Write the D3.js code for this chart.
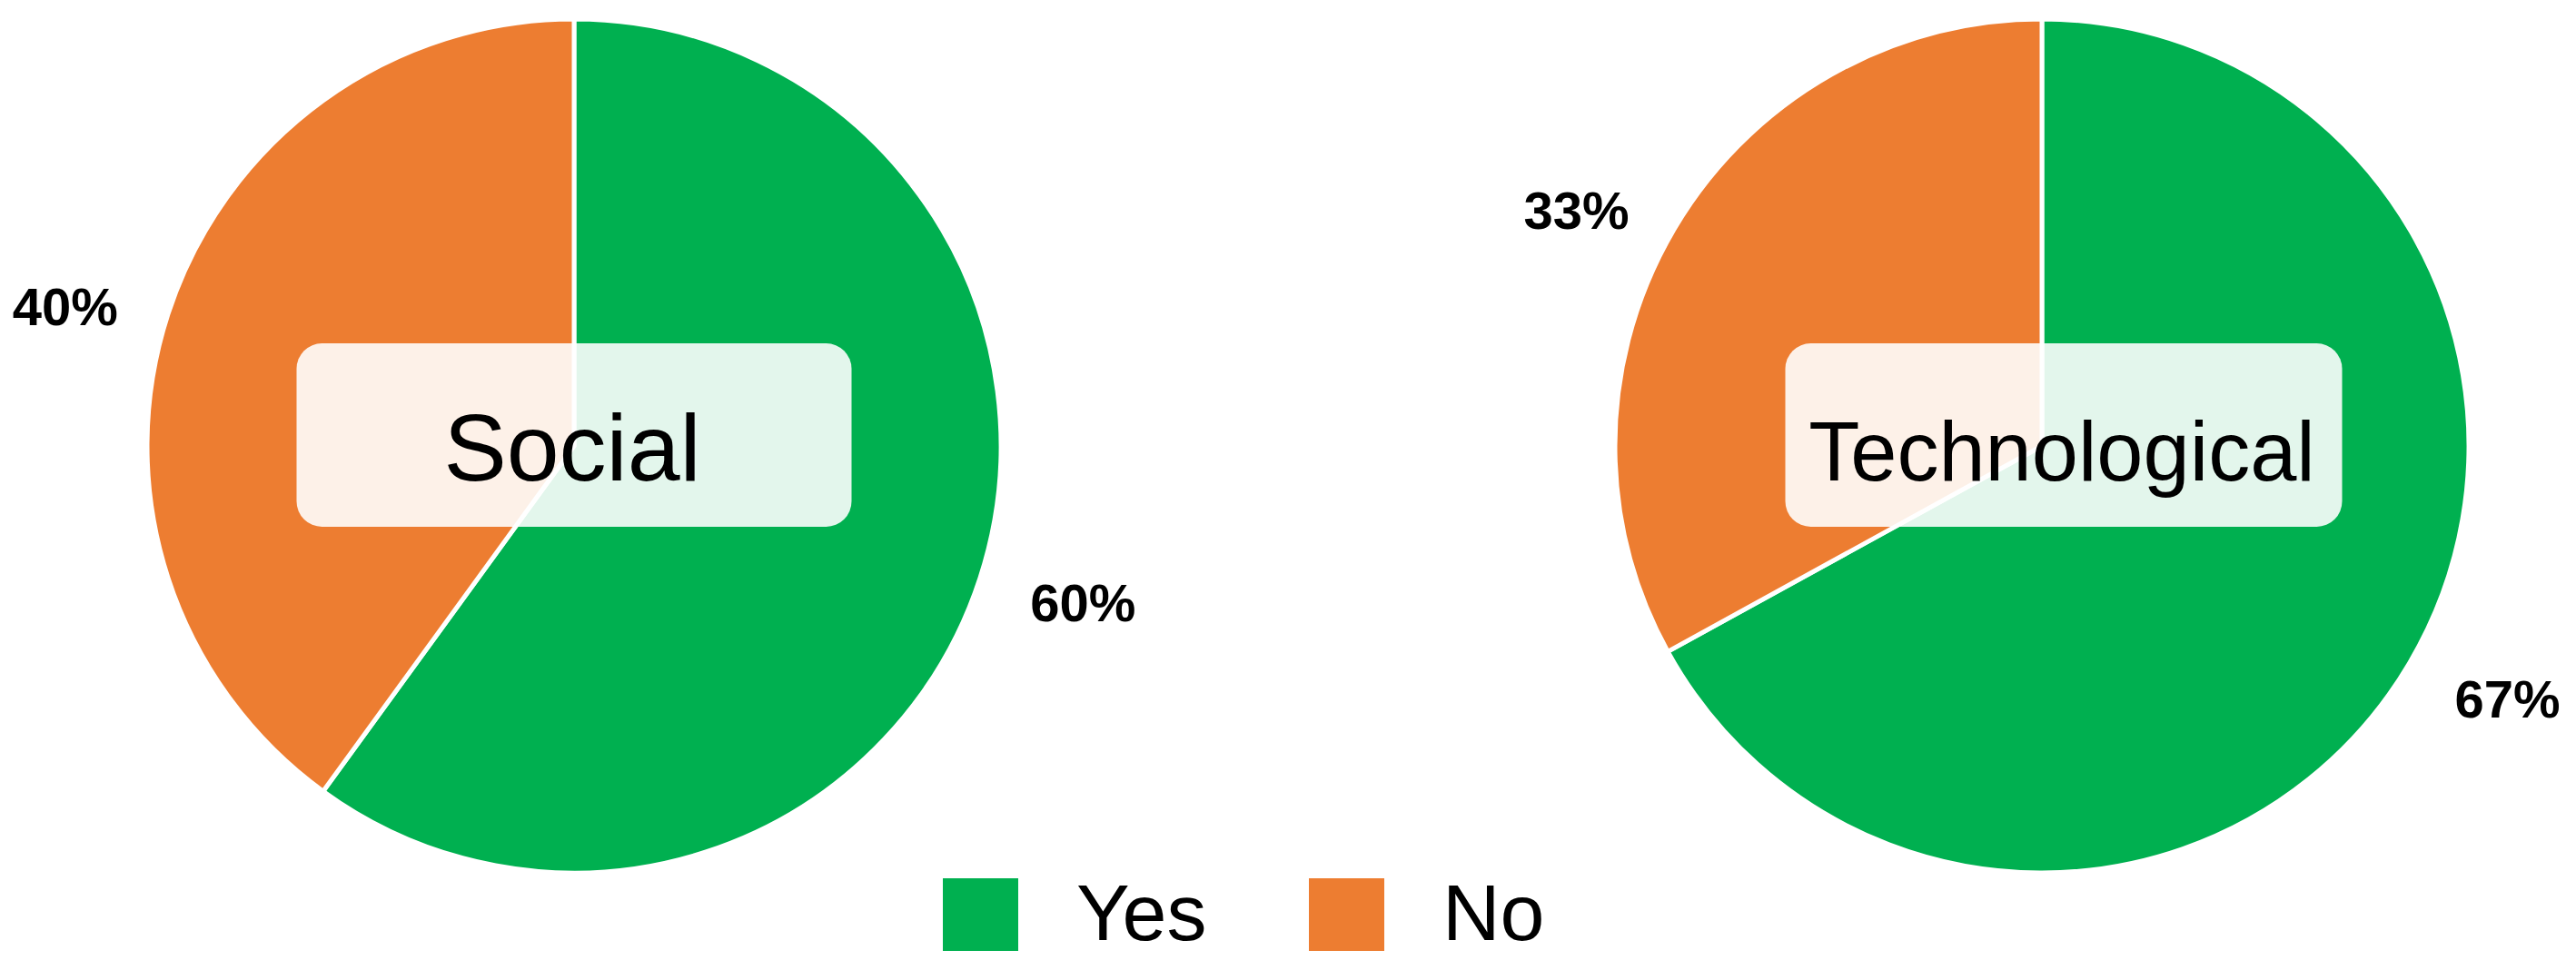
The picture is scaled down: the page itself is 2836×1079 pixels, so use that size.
<!DOCTYPE html>
<html>
<head>
<meta charset="utf-8">
<script src="https://cdn.jsdelivr.net/npm/d3@7"></script>
<style>
  body { margin: 0; background: #fff; }
  text { font-family: "Liberation Sans", Arial, sans-serif; }
</style>
</head>
<body>
<div id="chart"></div>
<script>
// Chart data
var categories = ['Yes', 'No'];
var pieTitles = ['Social', 'Technological'];
var socialValues = [60, 40];
var technologicalValues = [67, 33];
var colours = ['#00B050', '#ED7D31'];

var width = 2836, height = 1079;
var radius = 470;
var labelRadius = 528;

// one entry per pie: where it sits and how its title box looks
var pies = [
  { title: pieTitles[0], values: socialValues, cx: 632, cy: 491, boxDx: 0, boxW: 611, fontSize: 104 },
  { title: pieTitles[1], values: technologicalValues, cx: 2248, cy: 491, boxDx: 24, boxW: 613, fontSize: 92 }
];

var svg = d3.select('#chart')
  .append('svg')
    .attr('width', width)
    .attr('height', height);

var colour = d3.scaleOrdinal().domain(categories).range(colours);

// Yes starts at 12 o'clock and runs clockwise
var pie = d3.pie()
  .sort(null)
  .value(function(d){ return d.value; });

var arc = d3.arc().innerRadius(0).outerRadius(radius);
var labelArc = d3.arc().innerRadius(labelRadius).outerRadius(labelRadius);

function midAngle(d){ return (d.startAngle + d.endAngle) / 2; }

pies.forEach(function(p){
  var rows = categories.map(function(c, i){ return { cat: c, value: p.values[i] }; });
  var total = d3.sum(p.values);

  var g = svg.append('g')
    .attr('transform', 'translate(' + p.cx + ',' + p.cy + ')');

  g.selectAll('path')
    .data(pie(rows))
    .enter()
    .append('path')
      .attr('d', arc)
      .attr('fill', function(d){ return colour(d.data.cat); })
      .attr('stroke', '#fff')
      .attr('stroke-width', 5);

  // percent labels outside the pie, pushed away from the edge
  g.selectAll('text.pct')
    .data(pie(rows))
    .enter()
    .append('text')
      .attr('class', 'pct')
      .attr('transform', function(d){ return 'translate(' + labelArc.centroid(d) + ')'; })
      .attr('text-anchor', function(d){ return midAngle(d) < Math.PI ? 'start' : 'end'; })
      .attr('dy', '0.52em')
      .style('font-size', '58px')
      .style('font-weight', 'bold')
      .attr('fill', '#000')
      .text(function(d){ return Math.round(d.data.value / total * 100) + '%'; });

  // translucent title box over the centre
  g.append('rect')
    .attr('x', p.boxDx - p.boxW / 2)
    .attr('y', -113)
    .attr('width', p.boxW)
    .attr('height', 202)
    .attr('rx', 28)
    .attr('fill', '#fff')
    .attr('fill-opacity', 0.89);

  g.append('text')
    .attr('x', p.boxDx - 2)
    .attr('y', 38)
    .attr('text-anchor', 'middle')
    .style('font-size', p.fontSize + 'px')
    .attr('fill', '#000')
    .text(p.title);
});

// legend
var legendX = [1038, 1441];
var legend = svg.selectAll('g.key')
  .data(categories)
  .enter()
  .append('g')
    .attr('class', 'key')
    .attr('transform', function(d, i){ return 'translate(' + legendX[i] + ',967)'; });

legend.append('rect')
  .attr('width', 83)
  .attr('height', 80)
  .attr('fill', function(d){ return colour(d); });

legend.append('text')
  .attr('x', 147)
  .attr('y', 68)
  .style('font-size', '88px')
  .attr('fill', '#000')
  .text(function(d){ return d; });
</script>
</body>
</html>
